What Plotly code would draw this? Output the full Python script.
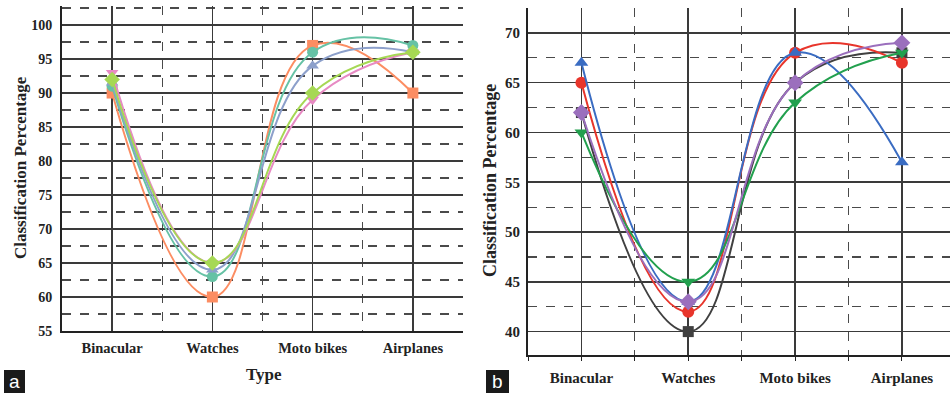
import plotly.graph_objects as go

W, H = 950, 395

categories = ["Binacular", "Watches", "Moto bikes", "Airplanes"]

# Panel (a)
a_orange_sq = [90, 60, 97, 90]
a_teal_circ = [91, 63, 96, 97]
a_blue_tri = [91.5, 64, 94, 96]
a_pink_tri = [93, 65, 89, 96]
a_green_dia = [92, 65, 90, 96]

# Panel (b)
b_black_sq = [62, 40, 65, 68]
b_red_circ = [65, 42, 68, 67]
b_blue_tri = [67, 43, 68, 57]
b_green_tri = [60, 45, 63, 68]
b_purple_dia = [62, 43, 65, 69]

xpos = list(range(len(categories)))

fig = go.Figure()

def add(y, color, symbol, xa, ya, size):
    fig.add_trace(go.Scatter(
        x=xpos, y=y, mode="lines+markers",
        line=dict(color=color, width=2, shape="spline", smoothing=1.3),
        marker=dict(symbol=symbol, size=size, color=color),
        xaxis=xa, yaxis=ya, showlegend=False, cliponaxis=True))

add(a_orange_sq, "#fc8d62", "square", "x", "y", 11)
add(a_teal_circ, "#66c2a5", "circle", "x", "y", 11)
add(a_blue_tri, "#8da0cb", "triangle-up", "x", "y", 11)
add(a_pink_tri, "#e78ac3", "triangle-down", "x", "y", 11)
add(a_green_dia, "#a6d854", "diamond", "x", "y", 12)

add(b_black_sq, "#404040", "square", "x2", "y2", 11)
add(b_red_circ, "#e8352b", "circle", "x2", "y2", 12)
add(b_blue_tri, "#3a6cc2", "triangle-up", "x2", "y2", 12)
add(b_green_tri, "#22a04e", "triangle-down", "x2", "y2", 12)
add(b_purple_dia, "#9b6fbd", "diamond", "x2", "y2", 13)

grid_solid = "#3a3a3a"
grid_dash = "#4a4a4a"

def tfont(size):
    return dict(family="Liberation Serif", size=size, color="#222", weight="bold")

def xaxis_cfg(domain, rng, ticks, anchor, fs):
    return dict(
        domain=domain, range=rng, anchor=anchor,
        tickvals=xpos, ticktext=categories, tickfont=tfont(fs),
        showgrid=True, gridcolor=grid_solid, gridwidth=1.6,
        showline=True, linecolor="#222", linewidth=2,
        ticks=ticks, ticklen=4, tickcolor="#222",
        zeroline=False, automargin=False, fixedrange=True,
        minor=dict(tick0=0.5, dtick=1, showgrid=True, gridcolor=grid_dash,
                   gridwidth=1.2, griddash="dash", ticks=ticks, ticklen=4,
                   tickcolor="#222"),
    )

def yaxis_cfg(domain, rng, dtick, anchor, fs):
    return dict(
        domain=domain, range=rng, anchor=anchor,
        dtick=dtick, tick0=0, tickfont=tfont(fs),
        showgrid=True, gridcolor=grid_solid, gridwidth=1.6,
        showline=True, linecolor="#222", linewidth=2,
        ticks="", zeroline=False, automargin=False, fixedrange=True,
        minor=dict(dtick=dtick / 2, tick0=0, showgrid=True, gridcolor=grid_dash,
                   gridwidth=1.2, griddash="dash"),
    )

fig.update_layout(
    width=W, height=H,
    margin=dict(l=0, r=0, t=0, b=0),
    paper_bgcolor="white", plot_bgcolor="white",
    xaxis=xaxis_cfg([62 / W, 463 / W], [-0.5, 3.5], "", "y", 14.5),
    yaxis=yaxis_cfg([(H - 331) / H, (H - 6) / H], [55, 102.8], 5, "x", 14),
    xaxis2=xaxis_cfg([528 / W, 1.0], [-0.5, 3.45], "outside", "y2", 15),
    yaxis2=yaxis_cfg([(H - 355) / H, (H - 8) / H], [37.65, 72.5], 5, "x2", 15),
)
fig.layout.yaxis.ticklabelstandoff = 5
fig.layout.yaxis2.ticklabelstandoff = 3
fig.layout.xaxis.ticklabelstandoff = 3
fig.layout.xaxis2.ticklabelstandoff = 4

fig.add_annotation(text="Classification Percentage", xref="paper", yref="paper",
                   x=20 / W, y=(H - 168) / H, textangle=-90, showarrow=False,
                   font=tfont(17), xanchor="center", yanchor="middle")
fig.add_annotation(text="Classification Percentage", xref="paper", yref="paper",
                   x=490 / W, y=(H - 181) / H, textangle=-90, showarrow=False,
                   font=tfont(18), xanchor="center", yanchor="middle")
fig.add_annotation(text="Type", xref="paper", yref="paper",
                   x=264 / W, y=(H - 374) / H, showarrow=False,
                   font=tfont(17), xanchor="center", yanchor="middle")

for lab, x0, x1 in [("a", 4, 25), ("b", 486, 509)]:
    fig.add_shape(type="rect", xref="paper", yref="paper",
                  x0=x0 / W, x1=x1 / W, y0=(H - 393) / H, y1=(H - 370) / H,
                  fillcolor="#1a1a1a", line=dict(width=0), layer="above")
    fig.add_annotation(text=lab, xref="paper", yref="paper",
                       x=(x0 + x1) / 2 / W, y=(H - 381) / H, showarrow=False,
                       font=dict(family="Liberation Sans", size=19, color="white"),
                       xanchor="center", yanchor="middle")

fig.write_html("out.html",
               config=dict(displayModeBar=False, staticPlot=True),
               post_script="document.body.style.margin='0';"
                           "document.body.style.overflow='hidden';")
